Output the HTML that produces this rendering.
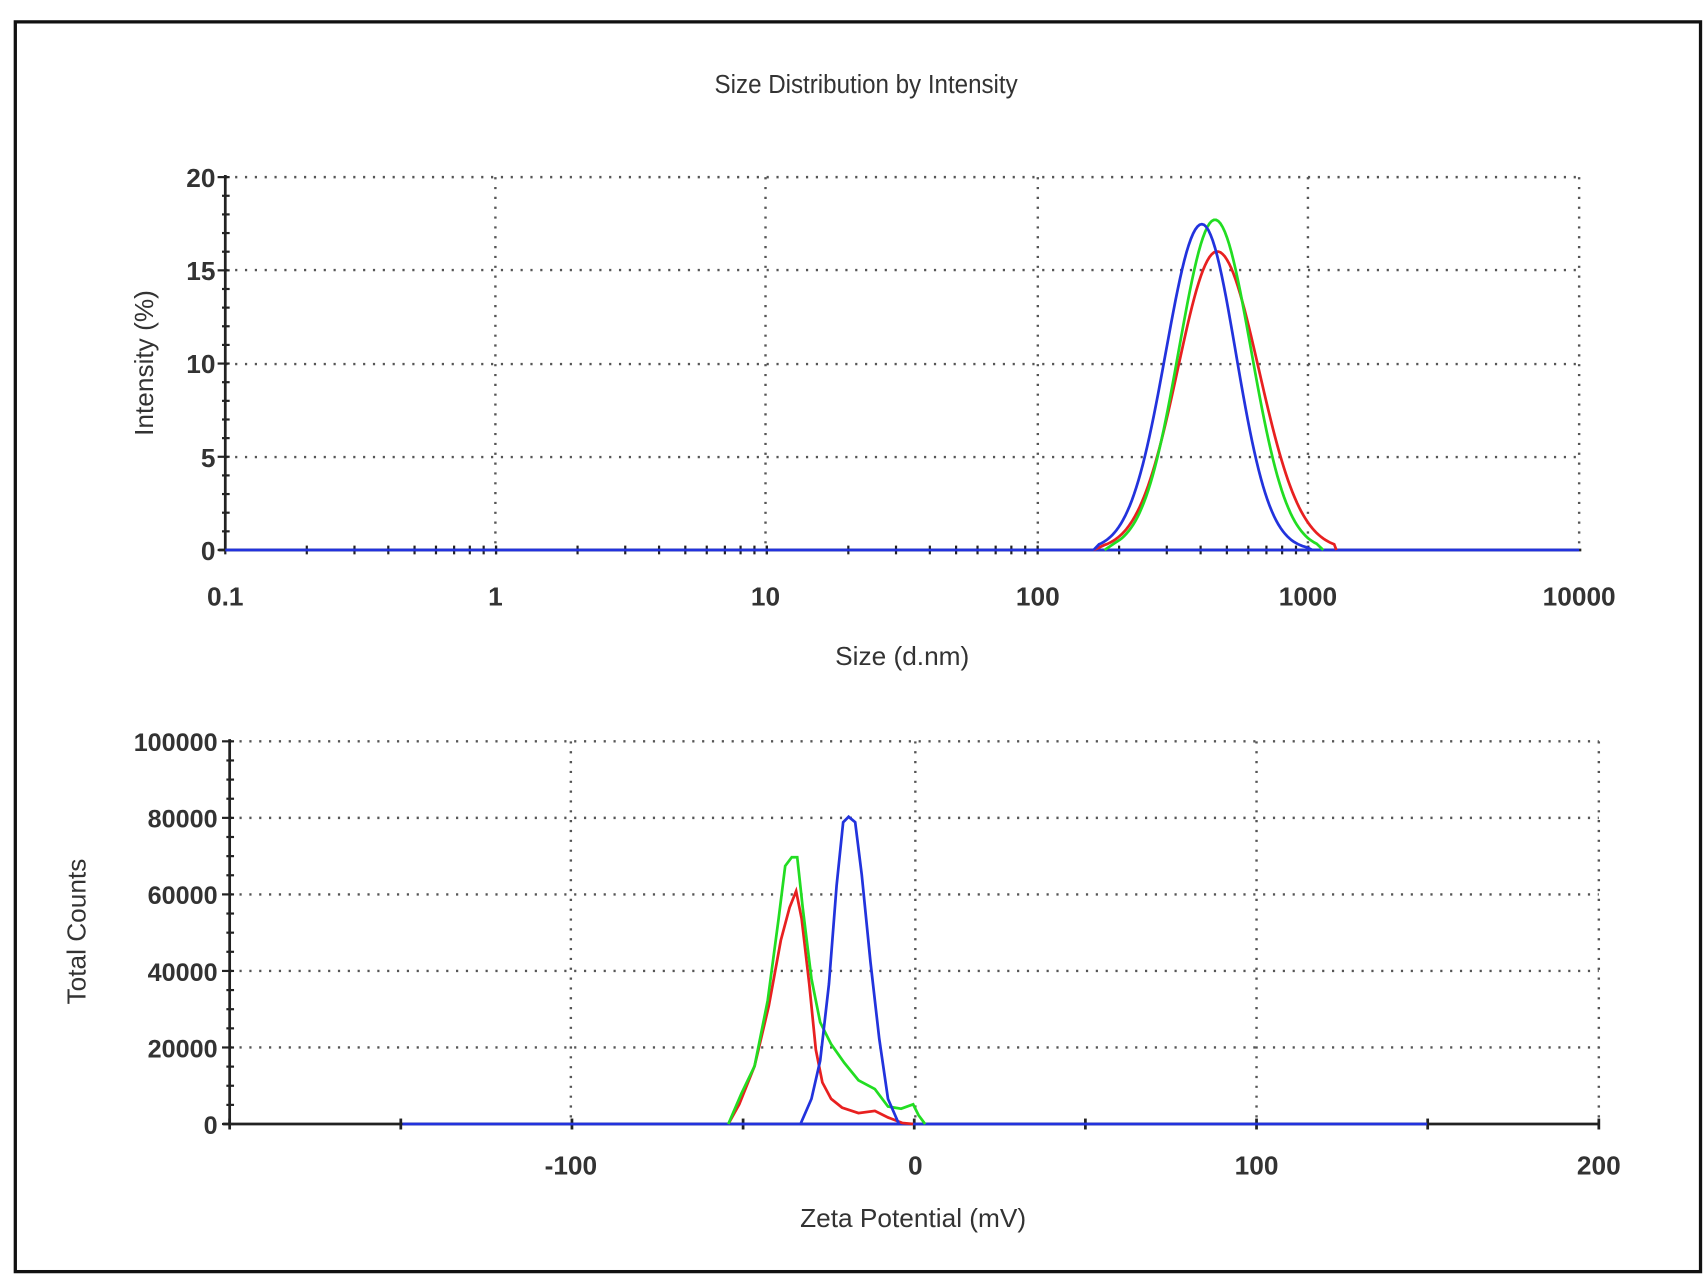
<!DOCTYPE html>
<html><head><meta charset="utf-8"><style>
html,body{margin:0;padding:0;background:#fff;width:1706px;height:1276px;overflow:hidden}
text{font-family:"Liberation Sans",Arial,sans-serif;fill:#333;font-weight:bold}
</style></head><body>
<svg width="1706" height="1276" viewBox="0 0 1560 1167" preserveAspectRatio="none" xmlns="http://www.w3.org/2000/svg">
<rect x="14" y="20" width="1541" height="1143" fill="#fff" stroke="#111" stroke-width="3"/>
<text x="792" y="85" font-size="24" text-anchor="middle" style="font-weight:normal" transform="translate(792 0) scale(0.92 1) translate(-792 0)">Size Distribution by Intensity</text>
<g id="tg"></g>
<g id="bg"></g>
<text x="206" y="554" font-size="24" text-anchor="middle">0.1</text>
<text x="453" y="554" font-size="24" text-anchor="middle">1</text>
<text x="700" y="554" font-size="24" text-anchor="middle">10</text>
<text x="949" y="554" font-size="24" text-anchor="middle">100</text>
<text x="1196" y="554" font-size="24" text-anchor="middle">1000</text>
<text x="1444" y="554" font-size="24" text-anchor="middle">10000</text>
<text x="197" y="171" font-size="24" text-anchor="end">20</text>
<text x="197" y="256" font-size="24" text-anchor="end">15</text>
<text x="197" y="341" font-size="24" text-anchor="end">10</text>
<text x="197" y="427" font-size="24" text-anchor="end">5</text>
<text x="197" y="512" font-size="24" text-anchor="end">0</text>
<text x="825" y="608" font-size="24" text-anchor="middle" style="font-weight:normal">Size (d.nm)</text>
<text transform="translate(140 332) rotate(-90)" font-size="24" text-anchor="middle" style="font-weight:normal">Intensity (%)</text>
<text x="199" y="687" font-size="23" text-anchor="end">100000</text>
<text x="199" y="757" font-size="23" text-anchor="end">80000</text>
<text x="199" y="827" font-size="23" text-anchor="end">60000</text>
<text x="199" y="897" font-size="23" text-anchor="end">40000</text>
<text x="199" y="967" font-size="23" text-anchor="end">20000</text>
<text x="199" y="1037" font-size="23" text-anchor="end">0</text>
<text x="522" y="1074" font-size="24" text-anchor="middle">-100</text>
<text x="837" y="1074" font-size="24" text-anchor="middle">0</text>
<text x="1149" y="1074" font-size="24" text-anchor="middle">100</text>
<text x="1462" y="1074" font-size="24" text-anchor="middle">200</text>
<text x="835" y="1122" font-size="24" text-anchor="middle" style="font-weight:normal">Zeta Potential (mV)</text>
<text transform="translate(78 852) rotate(-90)" font-size="24" text-anchor="middle" style="font-weight:normal">Total Counts</text>
</svg>
<script>
(function(){
var NS="http://www.w3.org/2000/svg";
function el(p,t,a){var e=document.createElementNS(NS,t);for(var k in a)e.setAttribute(k,a[k]);p.appendChild(e);return e;}
function dot(o){o.stroke="#555";o["stroke-width"]=2.2;o["stroke-dasharray"]="2 7";o.fill="none";return o;}
var tg=document.getElementById('tg'),bg=document.getElementById('bg');
[162,247,333,418].forEach(function(y){el(tg,'line',dot({x1:206,x2:1444,y1:y,y2:y}));});
[453,700,949,1196,1444].forEach(function(x){el(tg,'line',dot({x1:x,x2:x,y1:162,y2:503}));});
el(tg,'line',{x1:206,x2:206,y1:160,y2:504,stroke:"#222","stroke-width":2.5});
el(tg,'line',{x1:200,x2:1446,y1:503,y2:503,stroke:"#222","stroke-width":2.5});
for(var i=0;i<=20;i++){var y=503-i*17.05;el(tg,'line',{x1:i%5?203:199,x2:210,y1:y,y2:y,stroke:"#222","stroke-width":2});}
for(var d=0;d<4;d++)for(var m=1;m<=10;m++){var x=206+247.6*(d+Math.log10(m));el(tg,'line',{x1:x,x2:x,y1:499,y2:507,stroke:"#222","stroke-width":2});}
function gauss(c,sL,sR,h,x0,x1){var p=[];for(var x=x0;x<=x1;x+=2){var s=x<c?sL:sR;var v=h*Math.exp(-((x-c)*(x-c))/(2*s*s));p.push(x+","+(503-v).toFixed(1));}return p.join(" ");}
el(tg,'line',{x1:206,x2:1444,y1:503,y2:503,stroke:"#2233dd","stroke-width":2.5});
el(tg,'polyline',{points:"1000,503 "+gauss(1113,36,38,273,1010,1220)+" 1222,503",fill:"none",stroke:"#e82020","stroke-width":2.5});
el(tg,'polyline',{points:"1010,503 "+gauss(1111,33,33,302,1020,1205)+" 1210,503",fill:"none",stroke:"#22dd22","stroke-width":2.5});
el(tg,'polyline',{points:"1000,503 "+gauss(1099,33,31,298,1005,1195)+" 1200,503",fill:"none",stroke:"#2233dd","stroke-width":2.5});
[678,748,818,888,958].forEach(function(y){el(bg,'line',dot({x1:210,x2:1462,y1:y,y2:y}));});
[522,837,1149,1462].forEach(function(x){el(bg,'line',dot({x1:x,x2:x,y1:678,y2:1028}));});
el(bg,'line',{x1:210,x2:210,y1:676,y2:1029,stroke:"#222","stroke-width":2.5});
el(bg,'line',{x1:204,x2:1463,y1:1028,y2:1028,stroke:"#222","stroke-width":2.5});
for(var j=0;j<=20;j++){var yy=1028-j*17.5;el(bg,'line',{x1:j%4?207:203,x2:214,y1:yy,y2:yy,stroke:"#222","stroke-width":2});}
for(var k=0;k<=8;k++){var xx=210+k*156.5;el(bg,'line',{x1:xx,x2:xx,y1:1023,y2:1033,stroke:"#222","stroke-width":2.5});}
el(bg,'line',{x1:368,x2:1305,y1:1028,y2:1028,stroke:"#2233dd","stroke-width":2.5});
el(bg,'polyline',{points:"666,1028 676,1010 690,975 703,920 714,860 722,830 728,815 733,840 740,900 746,960 752,990 760,1005 770,1013 785,1018 800,1016 812,1022 825,1027 835,1028",fill:"none",stroke:"#e82020","stroke-width":2.5});
el(bg,'polyline',{points:"666,1028 678,1000 690,975 702,915 712,840 718,792 724,784 729,784 734,830 742,895 750,935 760,955 772,972 785,988 800,996 812,1012 824,1014 835,1010 840,1020 846,1028",fill:"none",stroke:"#22dd22","stroke-width":2.5});
el(bg,'polyline',{points:"732,1028 742,1005 750,970 758,900 765,810 771,752 776,747 782,752 788,800 796,880 804,950 812,1005 822,1028",fill:"none",stroke:"#2233dd","stroke-width":2.5});
})();
</script>
</body></html>
